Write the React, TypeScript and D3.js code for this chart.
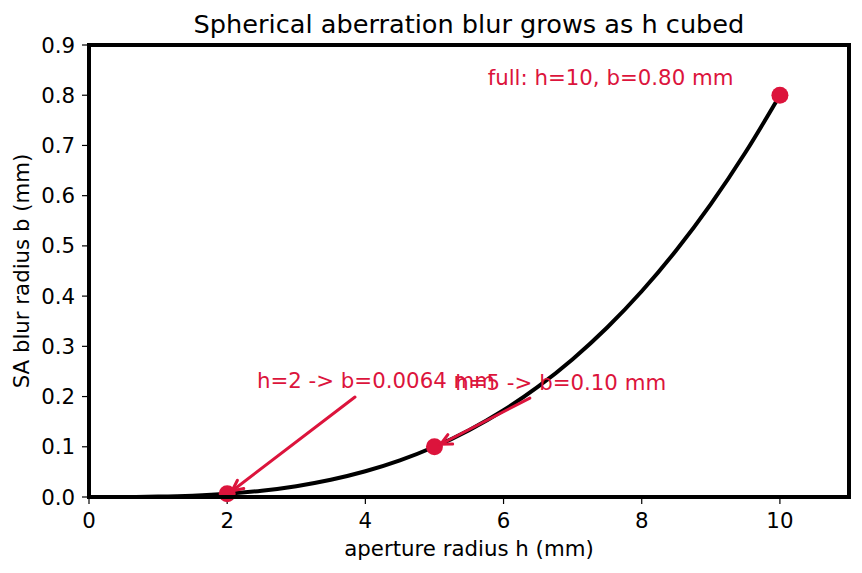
import React from 'react';
import * as d3 from 'd3';

// aperture radius h (mm) and blur radius b (mm)
const apertureH = [0, 0.5, 1, 1.5, 2, 2.5, 3, 3.5, 4, 4.5, 5, 5.5, 6, 6.5, 7, 7.5, 8, 8.5, 9, 9.5, 10];
const blurB = [0, 0.0001, 0.0008, 0.0027, 0.0064, 0.0125, 0.0216, 0.0343, 0.0512, 0.0729, 0.1,
  0.1331, 0.1728, 0.2197, 0.2744, 0.3375, 0.4096, 0.4913, 0.5832, 0.6859, 0.8];

// highlighted points
const markH = [2, 5, 10];
const markB = [0.0064, 0.1, 0.8];

// annotations: text anchor and arrow start/end (data units)
const noteText = ['h=2 -> b=0.0064 mm', 'h=5 -> b=0.10 mm', 'full: h=10, b=0.80 mm'];
const noteX = [2.43, 5.3, 5.77];
const noteY = [0.217, 0.213, 0.82];
const arrowFromX = [3.85, 6.38, null];
const arrowFromY = [0.199, 0.197, null];
const arrowToX = [2.07, 5.09, null];
const arrowToY = [0.012, 0.105, null];

const xTicks = [0, 2, 4, 6, 8, 10];
const yTicks = [0, 0.1, 0.2, 0.3, 0.4, 0.5, 0.6, 0.7, 0.8, 0.9];

const W = 862, H = 573;
const m = { left: 89, right: 849, top: 45, bottom: 497 };
const red = '#dc143c';
const font = 'DejaVu Sans, sans-serif';
const fs = 21.3;

export default function App() {
  const x = d3.scaleLinear().domain([0, 11]).range([m.left, m.right]);
  const y = d3.scaleLinear().domain([0, 0.9]).range([m.bottom, m.top]);

  const pts: [number, number][] = apertureH.map((h, i) => [h, blurB[i]]);
  const line = d3.line<[number, number]>()
    .x(d => x(d[0]))
    .y(d => y(d[1]))
    .curve(d3.curveMonotoneX);

  const arrows = noteText.map((_, i) => {
    if (arrowFromX[i] == null) return null;
    const x1 = x(arrowFromX[i] as number), y1 = y(arrowFromY[i] as number);
    const x2 = x(arrowToX[i] as number), y2 = y(arrowToY[i] as number);
    const ang = Math.atan2(y2 - y1, x2 - x1);
    const len = 12, spread = 0.45;
    const hx1 = x2 - len * Math.cos(ang - spread), hy1 = y2 - len * Math.sin(ang - spread);
    const hx2 = x2 - len * Math.cos(ang + spread), hy2 = y2 - len * Math.sin(ang + spread);
    return (
      <g key={i} stroke={red} strokeWidth={3} fill="none" strokeLinecap="round">
        <line x1={x1} y1={y1} x2={x2} y2={y2} />
        <polyline points={`${hx1},${hy1} ${x2},${y2} ${hx2},${hy2}`} />
      </g>
    );
  });

  return (
    <svg width={W} height={H} style={{ position: 'absolute', left: 0, top: 0, background: '#fff' }} fontFamily={font}>
      <rect width={W} height={H} fill="#fff" />
      <text x={(m.left + m.right) / 2} y={33} textAnchor="middle" fontSize={25.6}>
        Spherical aberration blur grows as h cubed
      </text>

      {/* ticks */}
      {xTicks.map(t => (
        <g key={'x' + t}>
          <line x1={x(t)} x2={x(t)} y1={m.bottom} y2={m.bottom + 7} stroke="#000" strokeWidth={1.2} />
          <text x={x(t)} y={528} textAnchor="middle" fontSize={fs}>{t}</text>
        </g>
      ))}
      {yTicks.map(t => (
        <g key={'y' + t}>
          <line x1={m.left - 7} x2={m.left} y1={y(t)} y2={y(t)} stroke="#000" strokeWidth={1.2} />
          <text x={m.left - 14} y={y(t) + 7.5} textAnchor="end" fontSize={fs}>{t.toFixed(1)}</text>
        </g>
      ))}

      <text x={(m.left + m.right) / 2} y={556} textAnchor="middle" fontSize={fs}>aperture radius h (mm)</text>
      <text transform={`translate(29,${(m.top + m.bottom) / 2}) rotate(-90)`} textAnchor="middle" fontSize={fs}>
        SA blur radius b (mm)
      </text>

      {/* curve */}
      <path d={line(pts) || ''} fill="none" stroke="#000" strokeWidth={4} />

      {/* markers */}
      {markH.map((h, i) => (
        <circle key={h} cx={x(h)} cy={y(markB[i])} r={8.5} fill={red} />
      ))}

      {arrows}

      {noteText.map((t, i) => (
        <text key={t} x={x(noteX[i])} y={y(noteY[i])} fill={red} fontSize={fs}>{t}</text>
      ))}

      {/* spines */}
      <rect x={m.left} y={m.top} width={m.right - m.left} height={m.bottom - m.top}
        fill="none" stroke="#000" strokeWidth={4} />
    </svg>
  );
}
